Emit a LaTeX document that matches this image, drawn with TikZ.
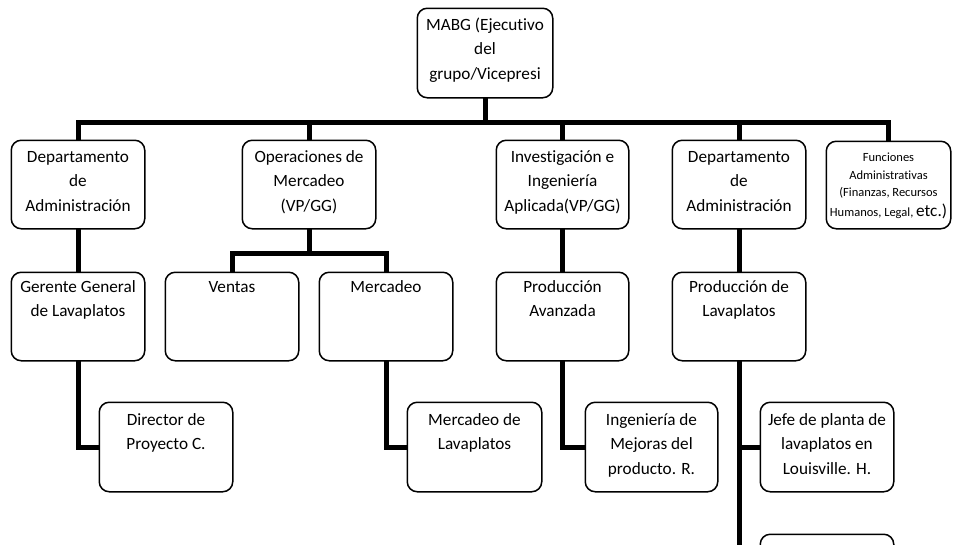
\documentclass[tikz,border=0pt]{standalone}
\usepackage{fontspec}
\setmainfont{Carlito}[Ligatures={NoCommon}]
\tikzset{
  x=1pt, y=-1pt,
  orgbox/.style={draw=black, line width=1.5pt, rounded corners=10pt, fill=white, inner sep=0pt},
  lbl/.style={align=center, inner sep=0pt, font=\fontsize{17.2}{24.5}\selectfont, anchor=base},
  small/.style={align=center, inner sep=0pt, font=\fontsize{12.5}{17.5}\selectfont, anchor=base},
  conn/.style={draw=black, line width=5pt, line join=miter}
}
\begin{document}
\begin{tikzpicture}
\useasboundingbox (0,0) rectangle (953,544);
\clip (0,0) rectangle (953,544);
\coordinate (bus) at (0,122);
\coordinate (sbus) at (0,253);
% boxes (positions)
\path
  node[orgbox, minimum width=134, minimum height=88] (top) at (485,53) {}
  node[orgbox, minimum width=132, minimum height=87] (d1) at (78,184.5) {}
  node[orgbox, minimum width=132, minimum height=87] (ops) at (309,184.5) {}
  node[orgbox, minimum width=131, minimum height=87] (inv) at (562.5,184.5) {}
  node[orgbox, minimum width=132, minimum height=87] (d2) at (739,184.5) {}
  node[orgbox, minimum width=123, minimum height=86] (fa) at (888.5,185) {}
  node[orgbox, minimum width=132, minimum height=87] (ger) at (78,316.5) {}
  node[orgbox, minimum width=132, minimum height=87] (ven) at (232,316.5) {}
  node[orgbox, minimum width=132, minimum height=87] (mer) at (386,316.5) {}
  node[orgbox, minimum width=131, minimum height=87] (pav) at (562.5,316.5) {}
  node[orgbox, minimum width=132, minimum height=87] (plav) at (739,316.5) {}
  node[orgbox, minimum width=132, minimum height=88] (dir) at (166,447) {}
  node[orgbox, minimum width=133, minimum height=88] (mlav) at (474.5,447) {}
  node[orgbox, minimum width=131, minimum height=88] (ing) at (651.5,447) {}
  node[orgbox, minimum width=132, minimum height=88] (jefe) at (827,447) {}
  node[orgbox, minimum width=132, minimum height=88] (bot) at (827,579) {};
% connectors
\draw[conn] (top.south) -- (top.south |- bus);
\draw[conn] (d1.north) -- (d1.north |- bus) -- (fa.north |- bus) -- (fa.north);
\draw[conn] (ops.north) -- (ops.north |- bus);
\draw[conn] (inv.north) -- (inv.north |- bus);
\draw[conn] (d2.north) -- (d2.north |- bus);
\draw[conn] (d1.south) -- (ger.north);
\draw[conn] (ops.south) -- (ops.south |- sbus);
\draw[conn] (ven.north) -- (ven.north |- sbus) -- (mer.north |- sbus) -- (mer.north);
\draw[conn] (inv.south) -- (pav.north);
\draw[conn] (d2.south) -- (plav.north);
\draw[conn] (ger.south) |- (dir.west);
\draw[conn] (mer.south) |- (mlav.west);
\draw[conn] (pav.south) |- (ing.west);
\draw[conn] (plav.south) |- (jefe.west);
\draw[conn] (plav.south) |- (bot.west);
% redraw boxes over connectors
\foreach \n in {top,d1,ops,inv,d2,fa,ger,ven,mer,pav,plav,dir,mlav,ing,jefe,bot}{
  \draw[line width=1.5pt, rounded corners=10pt, fill=white]
    (\n.north west) rectangle (\n.south east);
}
% labels (anchored at the baseline of the last line)
\node[lbl, yshift=-71pt] (top-t) at (top.north) {MABG (Ejecutivo\\del\\grupo/Vicepresi};
\node[lbl, yshift=-71pt] (d1-t) at (d1.north) {Departamento\\de\\Administración};
\node[lbl, yshift=-71pt] (ops-t) at (ops.north) {Operaciones de\\Mercadeo\\(VP/GG)};
\node[lbl, yshift=-71pt] (inv-t) at (inv.north) {Investigación e\\Ingeniería\\Aplicada(VP/GG)};
\node[lbl, yshift=-71pt] (d2-t) at (d2.north) {Departamento\\de\\Administración};
\node[small, yshift=-75pt] (fa-t) at (fa.north) {Funciones\\Administrativas\\(Finanzas, Recursos\\[2pt]Humanos, Legal, {\fontsize{17.2}{20}\selectfont etc.)}};
\node[lbl, yshift=-44.5pt] (ger-t) at (ger.north) {Gerente General\\de Lavaplatos};
\node[lbl, yshift=-20pt] (ven-t) at (ven.north) {Ventas};
\node[lbl, yshift=-20pt] (mer-t) at (mer.north) {Mercadeo};
\node[lbl, yshift=-44.5pt] (pav-t) at (pav.north) {Producción\\Avanzada};
\node[lbl, yshift=-44.5pt] (plav-t) at (plav.north) {Producción de\\Lavaplatos};
\node[lbl, yshift=-47.5pt] (dir-t) at (dir.north) {Director de\\Proyecto C.};
\node[lbl, yshift=-47.5pt] (mlav-t) at (mlav.north) {Mercadeo de\\Lavaplatos};
\node[lbl, yshift=-72pt] (ing-t) at (ing.north) {Ingeniería de\\Mejoras del\\producto. R.};
\node[lbl, yshift=-72pt] (jefe-t) at (jefe.north) {Jefe de planta de\\lavaplatos en\\Louisville. H.};
\end{tikzpicture}
\end{document}
